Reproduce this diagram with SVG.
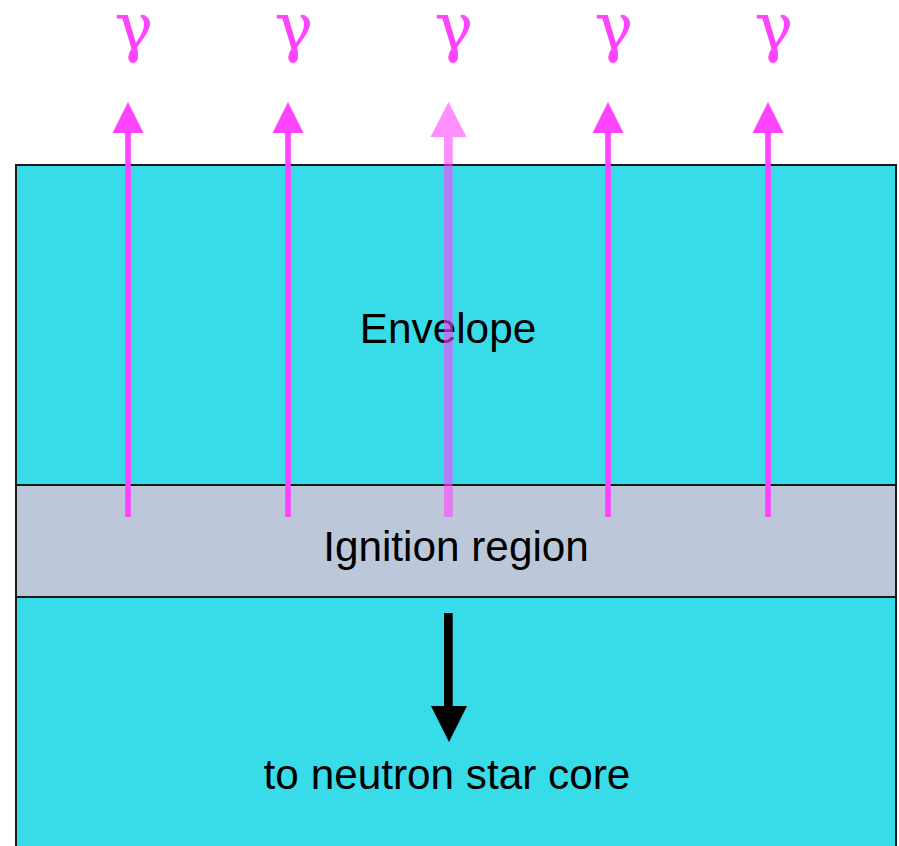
<svg xmlns="http://www.w3.org/2000/svg" width="899" height="846" viewBox="0 0 899 846">
<style>
.layer{stroke:#1a1a1a;stroke-width:2}
.lbl{font-family:"Liberation Sans",Arial,sans-serif;font-size:42.3px;fill:#000;text-anchor:middle}
.gam{font-family:"DejaVu Serif",serif;font-size:65px;fill:#FF44FF;text-anchor:middle}
.ph{fill:#FF44FF}
</style>
<rect width="899" height="846" fill="#fff"/>
<g id="envelope">
<rect class="layer" x="16" y="165" width="880" height="320" fill="#38DCE8"/>
<text class="lbl" x="448" y="343">Envelope</text>
</g>
<g id="core">
<rect class="layer" x="16" y="597" width="880" height="260" fill="#38DCE8"/>
<text class="lbl" x="447" y="789">to neutron star core</text>
</g>
<g id="ignition">
<rect class="layer" x="16" y="485" width="880" height="112" fill="#BCC8DA"/>
<text class="lbl" x="456" y="561">Ignition region</text>
</g>
<g id="connectors">
<g class="ph">
<rect x="125.2" y="130" width="5.6" height="387"/><polygon points="128,102 112.5,133 143.5,133"/>
<rect x="285.2" y="130" width="5.6" height="387"/><polygon points="288,102 272.5,133 303.5,133"/>
<rect x="605.2" y="130" width="5.6" height="387"/><polygon points="608,102 592.5,133 623.5,133"/>
<rect x="765.2" y="130" width="5.6" height="387"/><polygon points="768,102 752.5,133 783.5,133"/>
</g>
<g class="ph" opacity="0.6">
<rect x="444" y="136" width="8.7" height="381"/><polygon points="448.5,102 430.5,137 466.5,137"/>
</g>
<g fill="#000">
<rect x="444" y="613" width="8.7" height="95"/><polygon points="431,706 467,706 449,742"/>
</g>
</g>
<g id="gammas">
<text class="gam" x="134" y="49">γ</text>
<text class="gam" x="294" y="49">γ</text>
<text class="gam" x="454" y="49">γ</text>
<text class="gam" x="614" y="49">γ</text>
<text class="gam" x="774" y="49">γ</text>
</g>
</svg>
